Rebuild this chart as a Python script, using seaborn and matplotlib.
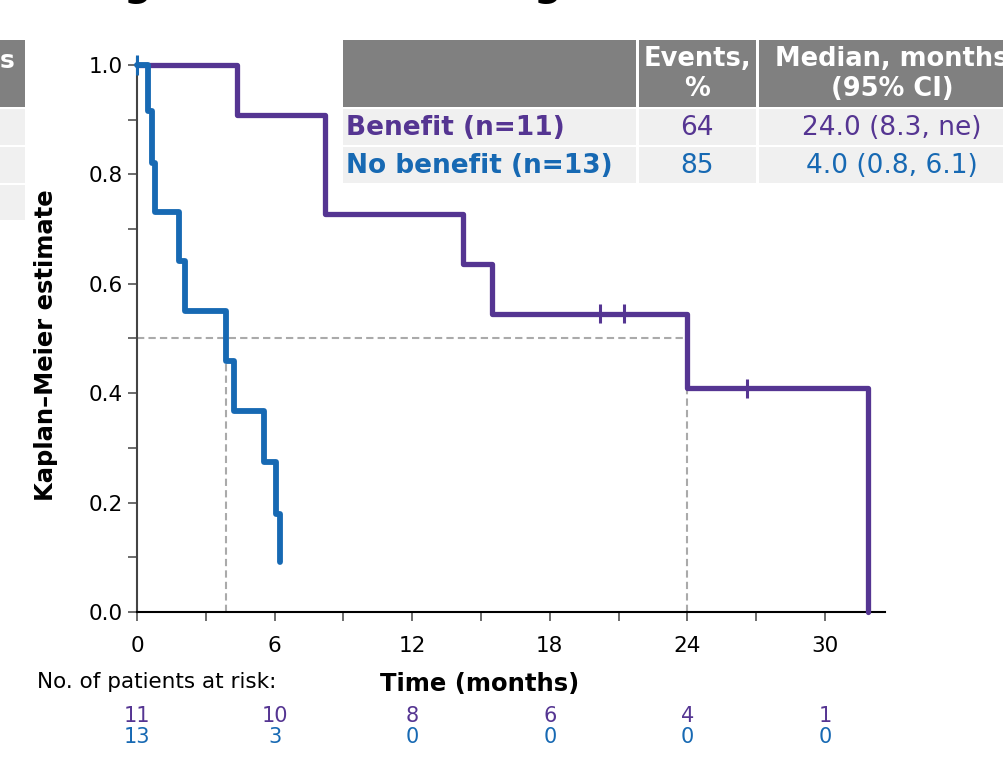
import numpy as np
import pandas as pd
import matplotlib
matplotlib.use("Agg")
import matplotlib.pyplot as plt
import matplotlib.transforms as mtransforms
from matplotlib.patches import Rectangle
import seaborn as sns

# Data
benefit_time = [0, 4.35, 8.2, 14.2, 15.5, 24.0, 31.9]
benefit_surv = [1.0, 0.909, 0.727, 0.636, 0.545, 0.409, 0.0]
benefit_censor_time = [20.2, 21.25, 26.6]
benefit_censor_surv = [0.545, 0.545, 0.409]

nobenefit_time = [0, 0.48, 0.65, 0.8, 1.85, 2.1, 3.9, 4.25, 5.55, 6.05, 6.25]
nobenefit_surv = [1.0, 0.915, 0.82, 0.732, 0.641, 0.55, 0.458, 0.367, 0.275, 0.18, 0.092]
nobenefit_censor_time = [0.0]
nobenefit_censor_surv = [1.0]

median_benefit = 24.0
median_nobenefit = 3.9

risk_times = [0, 6, 12, 18, 24, 30]
risk_benefit = [11, 10, 8, 6, 4, 1]
risk_nobenefit = [13, 3, 0, 0, 0, 0]

groups = ["Benefit (n=11)", "No benefit (n=13)"]
events_pct = ["64", "85"]
median_ci = ["24.0 (8.3, ne)", "4.0 (0.8, 6.1)"]

PURPLE = "#553592"
BLUE = "#1769b3"
palette = {groups[0]: PURPLE, groups[1]: BLUE}

W, H = 1004, 768


def fx(px):
    return px / W


def fy(py):
    return 1 - py / H


curves = pd.concat([
    pd.DataFrame({"time": benefit_time, "surv": benefit_surv, "group": groups[0]}),
    pd.DataFrame({"time": nobenefit_time, "surv": nobenefit_surv, "group": groups[1]}),
])
censors = pd.concat([
    pd.DataFrame({"time": benefit_censor_time, "surv": benefit_censor_surv, "group": groups[0]}),
    pd.DataFrame({"time": nobenefit_censor_time, "surv": nobenefit_censor_surv, "group": groups[1]}),
])

sns.set_theme(style="white")
plt.rcParams["font.family"] = ["DejaVu Sans"]
plt.rcParams["text.color"] = "black"

fig = plt.figure(figsize=(W / 100, H / 100), dpi=100)
ax = fig.add_axes([fx(137), fy(612), fx(885 - 137), (612 - 58.4) / H])
ax.patch.set_visible(False)

# median guide lines
gl = dict(color="#aaaaaa", lw=1.5, ls=(0, (3.5, 2)), zorder=1)
ax.plot([0, median_benefit], [0.5, 0.5], **gl)
ax.plot([median_nobenefit, median_nobenefit], [0, 0.458], **gl)
ax.plot([median_benefit, median_benefit], [0, 0.409], **gl)

n_guides = len(ax.lines)
sns.lineplot(data=curves, x="time", y="surv", hue="group", palette=palette,
             drawstyle="steps-post", estimator=None, sort=False, legend=False,
             linewidth=3.8, ax=ax, zorder=3)
for ln in ax.lines[n_guides:]:
    ln.set_clip_on(False)
    if ln.get_color() == BLUE:
        ln.set_linewidth(4.2)
sns.scatterplot(data=censors, x="time", y="surv", hue="group", palette=palette,
                marker="|", s=190, linewidth=2.2, legend=False, ax=ax, zorder=4,
                clip_on=False)

ax.set_xlim(0, 32.62)
ax.set_ylim(0, 1.012)
ax.set_xticks(risk_times)
ax.set_xticks([3, 9, 15, 21, 27], minor=True)
ax.set_yticks([0, 0.2, 0.4, 0.6, 0.8, 1.0])
ax.set_yticks([0.1, 0.3, 0.5, 0.7, 0.9], minor=True)
ax.set_yticklabels(["0.0", "0.2", "0.4", "0.6", "0.8", "1.0"])
ax.tick_params(which="both", direction="out", length=6.5, width=1.1, color="#444444",
               labelsize=15.5, labelcolor="black", bottom=True, left=True)
ax.tick_params(axis="x", pad=11)
ax.tick_params(axis="y", pad=4)
for s in ["top", "right"]:
    ax.spines[s].set_visible(False)
ax.spines["left"].set_color("#444444")
ax.spines["bottom"].set_color("black")
ax.spines["left"].set_linewidth(1.5)
ax.spines["bottom"].set_linewidth(1.5)
ax.set_xlabel("")
ax.set_ylabel("")

fig.text(fx(46), fy(345), "Kaplan\u2013Meier estimate", rotation=90, ha="center",
         va="center", fontsize=17.5, fontweight="bold")
fig.text(fx(480), fy(684), "Time (months)", ha="center", va="center",
         fontsize=17.5, fontweight="bold")
fig.text(fx(37), fy(682), "No. of patients at risk:", ha="left", va="center",
         fontsize=15.5)

# numbers at risk
trans = mtransforms.blended_transform_factory(ax.transData, fig.transFigure)
for t, nb, nn in zip(risk_times, risk_benefit, risk_nobenefit):
    ax.text(t, fy(716), str(nb), transform=trans, ha="center", va="center",
            fontsize=15, color=PURPLE, clip_on=False)
    ax.text(t, fy(737), str(nn), transform=trans, ha="center", va="center",
            fontsize=15, color=BLUE, clip_on=False)

# title fragments cut at the top edge
for xp in [137, 547]:
    fig.text(fx(xp), 1 + 4 / H, "g", ha="center", va="baseline", fontsize=28,
             fontweight="bold")


def cell(x0, x1, y0, y1, color):
    fig.add_artist(Rectangle((fx(x0), fy(y1)), fx(x1 - x0), (y1 - y0) / H,
                             transform=fig.transFigure, facecolor=color,
                             edgecolor="none", zorder=1))


HEAD = "#808080"
ROW = "#f0f0f0"

# cropped table on the left edge
cell(-5, 25, 40, 107, HEAD)
for y0, y1 in [(109, 145), (147, 183), (185, 220)]:
    cell(-5, 25, y0, y1, ROW)
fig.text(fx(0), fy(61), "s", ha="left", va="center", fontsize=18,
         fontweight="bold", color="white", zorder=2)

# summary table
cols = [(343, 636), (639, 756), (759, 1010)]
for x0, x1 in cols:
    cell(x0, x1, 40, 107, HEAD)
    cell(x0, x1, 109, 145, ROW)
    cell(x0, x1, 147, 183, ROW)

fig.text(fx(697), fy(74), "Events,\n%", ha="center", va="center", fontsize=18.5,
         fontweight="bold", color="white", linespacing=1.22, zorder=2)
fig.text(fx(892), fy(74), "Median, months\n(95% CI)", ha="center", va="center",
         fontsize=18.5, fontweight="bold", color="white", linespacing=1.22, zorder=2)
for i, (yc, col) in enumerate([(128, PURPLE), (166, BLUE)]):
    fig.text(fx(346), fy(yc), groups[i], ha="left", va="center", fontsize=19,
             fontweight="bold", color=col, zorder=2)
    fig.text(fx(697), fy(yc), events_pct[i], ha="center", va="center",
             fontsize=19, color=col, zorder=2)
    fig.text(fx(892), fy(yc), median_ci[i], ha="center", va="center",
             fontsize=19, color=col, zorder=2)

fig.savefig("out.png", dpi=100)
